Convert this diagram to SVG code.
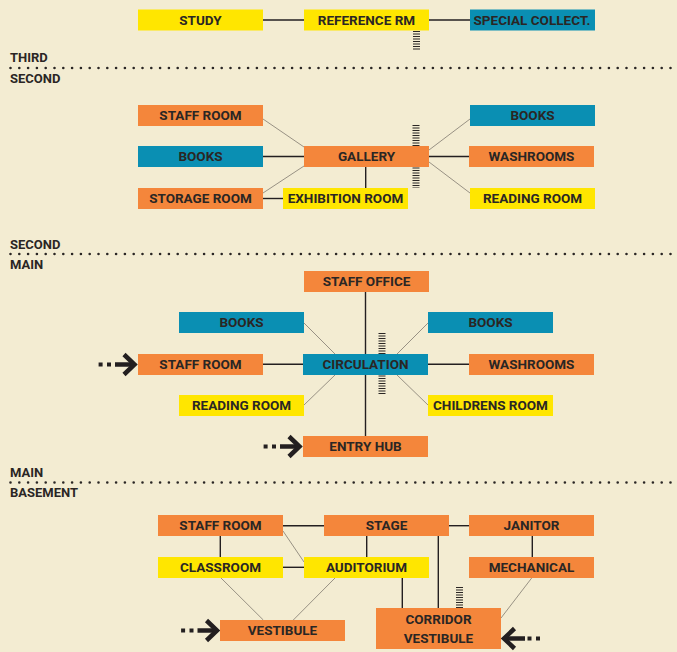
<svg xmlns="http://www.w3.org/2000/svg" width="677" height="652" viewBox="0 0 677 652">
<style>
.bg{fill:#F3ECD2}
.o{fill:#F4863B}
.y{fill:#FFE600}
.b{fill:#0A8FB3}
.t{font-family:Roboto,"Liberation Sans",sans-serif;font-weight:bold;font-size:13.5px;fill:#2a2624;text-anchor:middle}
.lbl{font-family:Roboto,"Liberation Sans",sans-serif;font-weight:bold;font-size:13px;fill:#2a2624}
.c{stroke:#231F20;stroke-width:1.4;fill:none}
.d{stroke:#8d877a;stroke-width:0.9;fill:none}
.dot{stroke:#2a2624;stroke-width:2.6;stroke-linecap:round;stroke-dasharray:0 8.8;fill:none}
.lad{stroke:#2a2624;stroke-width:7;stroke-dasharray:1.1 1.4;fill:none}
.ar{fill:#231F20}
.arl{stroke:#231F20;stroke-width:4.5;fill:none;stroke-linejoin:miter}
</style>
<defs>
<g id="arrowR">
<rect class="ar" x="-38.4" y="-2" width="4" height="4"/>
<rect class="ar" x="-30" y="-2" width="4" height="4"/>
<line class="arl" x1="-22" y1="0" x2="-4" y2="0"/>
<polyline class="arl" points="-13,-10 -2.5,0 -13,10"/>
</g>
</defs>
<rect class="bg" x="0" y="0" width="677" height="652"/>

<!-- floor separators -->
<g id="floors">
<text class="lbl" x="10" y="62">THIRD</text>
<line class="dot" x1="10.5" y1="68" x2="677" y2="68"/>
<text class="lbl" x="10" y="83">SECOND</text>
<text class="lbl" x="10" y="249">SECOND</text>
<line class="dot" x1="10.5" y1="254" x2="677" y2="254"/>
<text class="lbl" x="10" y="269">MAIN</text>
<text class="lbl" x="10" y="476.5">MAIN</text>
<line class="dot" x1="10.5" y1="482.5" x2="677" y2="482.5"/>
<text class="lbl" x="10" y="496.5">BASEMENT</text>
</g>

<!-- stairs / ladders -->
<g id="stairs">
<line class="lad" x1="416.5" y1="31" x2="416.5" y2="51"/>
<line class="lad" x1="416" y1="125" x2="416" y2="188"/>
<line class="lad" x1="382" y1="333" x2="382" y2="395"/>
<line class="lad" x1="459.5" y1="587" x2="459.5" y2="608"/>
</g>

<!-- connectors -->
<g id="connectors">
<line class="c" x1="263" y1="20" x2="304" y2="20"/>
<line class="c" x1="429" y1="20" x2="470" y2="20"/>

<line class="d" x1="263" y1="119" x2="304" y2="147"/>
<line class="c" x1="263" y1="156.5" x2="304" y2="156.5"/>
<line class="d" x1="263" y1="193" x2="304" y2="166"/>
<line class="c" x1="263" y1="198.5" x2="283" y2="198.5"/>
<line class="c" x1="365.7" y1="167" x2="365.7" y2="188"/>
<line class="d" x1="429" y1="150" x2="470" y2="119"/>
<line class="c" x1="429" y1="156.5" x2="469" y2="156.5"/>
<line class="d" x1="429" y1="162" x2="470" y2="193"/>

<line class="c" x1="365.5" y1="292" x2="365.5" y2="354"/>
<line class="c" x1="365.5" y1="375" x2="365.5" y2="436"/>
<line class="c" x1="263" y1="364.3" x2="303" y2="364.3"/>
<line class="c" x1="428" y1="364.3" x2="469" y2="364.3"/>
<line class="d" x1="304" y1="323" x2="335" y2="354"/>
<line class="d" x1="428" y1="323" x2="397" y2="354"/>
<line class="d" x1="304" y1="405" x2="335" y2="375"/>
<line class="d" x1="428" y1="405" x2="397" y2="375"/>

<line class="c" x1="283" y1="525.7" x2="324" y2="525.7"/>
<line class="c" x1="449" y1="525.7" x2="469" y2="525.7"/>
<line class="c" x1="220.3" y1="536" x2="220.3" y2="557"/>
<line class="c" x1="366.7" y1="536" x2="366.7" y2="557"/>
<line class="c" x1="283" y1="567.3" x2="304" y2="567.3"/>
<line class="c" x1="532.3" y1="536" x2="532.3" y2="557"/>
<line class="d" x1="283" y1="531" x2="304" y2="562"/>
<line class="d" x1="221" y1="578" x2="263.3" y2="620"/>
<line class="d" x1="335" y1="578" x2="293.3" y2="620"/>
<line class="c" x1="402.3" y1="578" x2="402.3" y2="608"/>
<line class="c" x1="438.3" y1="536" x2="438.3" y2="608"/>
<line class="d" x1="531.7" y1="578" x2="501" y2="618"/>

<use href="#arrowR" transform="translate(137,364.5)"/>
<use href="#arrowR" transform="translate(302,446.5)"/>
<use href="#arrowR" transform="translate(219.5,630.5)"/>
<g transform="translate(501.5,638.5)">
<rect class="ar" x="34.5" y="-2" width="4" height="4"/>
<rect class="ar" x="26" y="-2" width="4" height="4"/>
<line class="arl" x1="4" y1="0" x2="23.5" y2="0"/>
<polyline class="arl" points="13,-10 2.5,0 13,10"/>
</g>
</g>

<!-- third floor -->
<g id="study"><rect class="y" x="138" y="9.5" width="125" height="21"/><text class="t" x="200.5" y="25.3">STUDY</text></g>
<g id="reference-rm"><rect class="y" x="304" y="9.5" width="125" height="21"/><text class="t" x="366.5" y="25.3">REFERENCE RM</text></g>
<g id="special-collect"><rect class="b" x="470" y="9.5" width="125" height="21"/><text class="t" x="532" y="25.3">SPECIAL COLLECT.</text></g>

<!-- second floor -->
<g id="staff-room-2"><rect class="o" x="138" y="105" width="125" height="21"/><text class="t" x="200.5" y="120.3">STAFF ROOM</text></g>
<g id="books-2l"><rect class="b" x="138" y="146" width="125" height="21"/><text class="t" x="200.5" y="161.3">BOOKS</text></g>
<g id="storage-room"><rect class="o" x="138" y="188" width="125" height="21"/><text class="t" x="200.5" y="203.3">STORAGE ROOM</text></g>
<g id="gallery"><rect class="o" x="304" y="146" width="125" height="21"/><text class="t" x="366.5" y="161.3">GALLERY</text></g>
<g id="exhibition-room"><rect class="y" x="283" y="188" width="125" height="21"/><text class="t" x="345.5" y="203.3">EXHIBITION ROOM</text></g>
<g id="books-2r"><rect class="b" x="470" y="105" width="125" height="21"/><text class="t" x="532.5" y="120.3">BOOKS</text></g>
<g id="washrooms-2"><rect class="o" x="469" y="146" width="125" height="21"/><text class="t" x="531.5" y="161.3">WASHROOMS</text></g>
<g id="reading-room-2"><rect class="y" x="470" y="188" width="125" height="21"/><text class="t" x="532.5" y="203.3">READING ROOM</text></g>

<!-- main floor -->
<g id="staff-office"><rect class="o" x="304" y="271" width="125" height="21"/><text class="t" x="366.5" y="286.3">STAFF OFFICE</text></g>
<g id="books-ml"><rect class="b" x="179" y="312" width="125" height="21"/><text class="t" x="241.5" y="327.3">BOOKS</text></g>
<g id="books-mr"><rect class="b" x="428" y="312" width="125" height="21"/><text class="t" x="490.5" y="327.3">BOOKS</text></g>
<g id="staff-room-m"><rect class="o" x="138" y="354" width="125" height="21"/><text class="t" x="200.5" y="369.3">STAFF ROOM</text></g>
<g id="circulation"><rect class="b" x="303" y="354" width="125" height="21"/><text class="t" x="365.5" y="369.3">CIRCULATION</text></g>
<g id="washrooms-m"><rect class="o" x="469" y="354" width="125" height="21"/><text class="t" x="531.5" y="369.3">WASHROOMS</text></g>
<g id="reading-room-m"><rect class="y" x="179" y="395" width="125" height="21"/><text class="t" x="241.5" y="410.3">READING ROOM</text></g>
<g id="childrens-room"><rect class="y" x="428" y="395" width="125" height="21"/><text class="t" x="490.5" y="410.3">CHILDRENS ROOM</text></g>
<g id="entry-hub"><rect class="o" x="303" y="436" width="125" height="21"/><text class="t" x="365.5" y="451.3">ENTRY HUB</text></g>

<!-- basement -->
<g id="staff-room-b"><rect class="o" x="158" y="515" width="125" height="21"/><text class="t" x="220.5" y="530.3">STAFF ROOM</text></g>
<g id="stage"><rect class="o" x="324" y="515" width="125" height="21"/><text class="t" x="386.5" y="530.3">STAGE</text></g>
<g id="janitor"><rect class="o" x="469" y="515" width="125" height="21"/><text class="t" x="531.5" y="530.3">JANITOR</text></g>
<g id="classroom"><rect class="y" x="158" y="557" width="125" height="21"/><text class="t" x="220.5" y="572.3">CLASSROOM</text></g>
<g id="auditorium"><rect class="y" x="304" y="557" width="125" height="21"/><text class="t" x="366.5" y="572.3">AUDITORIUM</text></g>
<g id="mechanical"><rect class="o" x="469" y="557" width="125" height="21"/><text class="t" x="531.5" y="572.3">MECHANICAL</text></g>
<g id="vestibule"><rect class="o" x="220" y="620" width="125" height="21"/><text class="t" x="282.5" y="635.3">VESTIBULE</text></g>
<g id="corridor-vestibule"><rect class="o" x="376" y="608" width="125" height="41"/><text class="t" x="438.5" y="624.3">CORRIDOR</text><text class="t" x="438.5" y="643.3">VESTIBULE</text></g>
</svg>
